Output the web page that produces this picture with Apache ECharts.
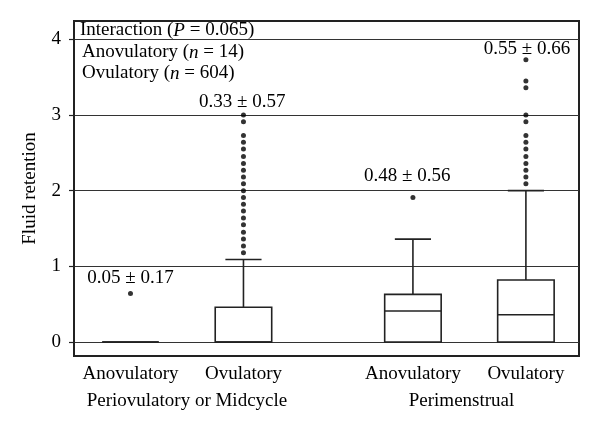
<!DOCTYPE html>
<html>
<head>
<meta charset="utf-8">
<script src="https://cdn.jsdelivr.net/npm/echarts@6/dist/echarts.min.js"></script>
<style>
html,body{margin:0;padding:0;background:#fff;}
#chart{width:600px;height:431px;}
</style>
</head>
<body>
<div id="chart"></div>
<script>
// ---- data ----
var boxPositions = [1, 2, 3.5, 4.5];
var boxLabels = ['Anovulatory', 'Ovulatory', 'Anovulatory', 'Ovulatory'];
var groupPositions = [1.5, 3.93];
var groupLabels = ['Periovulatory or Midcycle', 'Perimenstrual'];
// [min, Q1, median, Q3, max]
var statsPeriAnov = [0, 0, 0, 0, 0];
var statsPeriOv = [0, 0, 0, 0.46, 1.09];
var statsMenAnov = [0, 0, 0.41, 0.63, 1.36];
var statsMenOv = [0, 0, 0.36, 0.82, 2.0];
var outliersPeriAnov = [0.64];
var outliersPeriOv = [3.00, 2.91, 2.73, 2.64, 2.55, 2.45, 2.36, 2.27, 2.18, 2.09, 2.00, 1.91, 1.82, 1.73, 1.64, 1.55, 1.45, 1.36, 1.27, 1.18];
var outliersMenAnov = [1.91];
var outliersMenOv = [3.73, 3.45, 3.36, 3.00, 2.91, 2.73, 2.64, 2.55, 2.45, 2.36, 2.27, 2.18, 2.09];
var meanTexts = ['0.05 \u00b1 0.17', '0.33 \u00b1 0.57', '0.48 \u00b1 0.56', '0.55 \u00b1 0.66'];
var meanTextX = [1.0, 1.99, 3.45, 4.51];
var meanTextY = [0.84, 3.17, 2.2, 3.87];
var yTicks = [0, 1, 2, 3, 4];

// ---- build ----
var allStats = [statsPeriAnov, statsPeriOv, statsMenAnov, statsMenOv];
var allOutliers = [outliersPeriAnov, outliersPeriOv, outliersMenAnov, outliersMenOv];
var boxData = allStats.map(function (s, i) { return [boxPositions[i]].concat(s); });
var outlierData = [];
allOutliers.forEach(function (arr, i) {
  arr.forEach(function (v) { outlierData.push([boxPositions[i], v]); });
});
var textData = meanTexts.map(function (t, i) { return [meanTextX[i], meanTextY[i], t]; });

var FONT = 'Liberation Serif';
var FS = 19;
var INK = '#000';
var LINE = '#222';
var BOX_W = 0.5, CAP_W = 0.32;

function titleStyle() {
  return {fontFamily: FONT, fontSize: FS, fontWeight: 'normal', color: INK,
    rich: {i: {fontFamily: FONT, fontSize: FS, fontStyle: 'italic', color: INK}}};
}

var chart = echarts.init(document.getElementById('chart'), null, {renderer: 'canvas'});
chart.setOption({
  animation: false,
  backgroundColor: '#fff',
  textStyle: {fontFamily: FONT, color: INK},
  title: [
    {text: 'Interaction ({i|P} = 0.065)', left: 80, top: 21, padding: 0, textStyle: titleStyle()},
    {text: 'Anovulatory ({i|n} = 14)', left: 82, top: 43, padding: 0, textStyle: titleStyle()},
    {text: 'Ovulatory ({i|n} = 604)', left: 82, top: 64, padding: 0, textStyle: titleStyle()}
  ],
  grid: {left: 74, right: 21, top: 21, bottom: 75, show: true, borderColor: LINE, borderWidth: 2, backgroundColor: 'transparent'},
  xAxis: [
    {type: 'value', min: 0.5, max: 4.97, position: 'bottom',
     axisLine: {show: false}, axisTick: {show: false}, splitLine: {show: false},
     axisLabel: {customValues: boxPositions, margin: 9, fontFamily: FONT, fontSize: FS, color: INK,
       formatter: function (v) { var i = boxPositions.indexOf(v); return i >= 0 ? boxLabels[i] : ''; }}},
    {type: 'value', min: 0.5, max: 4.97, position: 'bottom', offset: 27,
     axisLine: {show: false}, axisTick: {show: false}, splitLine: {show: false},
     axisLabel: {customValues: groupPositions, margin: 9, fontFamily: FONT, fontSize: FS, color: INK,
       formatter: function (v) { var i = groupPositions.indexOf(v); return i >= 0 ? groupLabels[i] : ''; }}}
  ],
  yAxis: {type: 'value', min: -0.185, max: 4.242,
    name: 'Fluid retention', nameLocation: 'middle', nameGap: 34,
    nameTextStyle: {fontFamily: FONT, fontSize: FS, color: INK},
    axisLine: {show: true, lineStyle: {color: LINE, width: 1.5}},
    axisTick: {show: true, inside: false, length: 5, customValues: yTicks, lineStyle: {color: LINE, width: 1.2}},
    axisLabel: {customValues: yTicks, margin: 13, fontFamily: FONT, fontSize: FS, color: INK},
    splitLine: {show: true, lineStyle: {color: '#333', width: 1}}
  },
  series: [
    {type: 'custom', xAxisIndex: 0, data: boxData, z: 3,
     renderItem: function (params, api) {
       var x = api.value(0);
       var lo = api.value(1), q1 = api.value(2), med = api.value(3), q3 = api.value(4), hi = api.value(5);
       var half = api.size([BOX_W, 0])[0] / 2;
       var capHalf = api.size([CAP_W, 0])[0] / 2;
       var pLo = api.coord([x, lo]), pQ1 = api.coord([x, q1]), pMed = api.coord([x, med]);
       var pQ3 = api.coord([x, q3]), pHi = api.coord([x, hi]);
       var st = {stroke: LINE, lineWidth: 1.6, fill: null};
       var children = [];
       if (hi > q3) {
         children.push({type: 'line', shape: {x1: pQ3[0], y1: pQ3[1], x2: pHi[0], y2: pHi[1]}, style: st});
         children.push({type: 'line', shape: {x1: pHi[0] - capHalf, y1: pHi[1], x2: pHi[0] + capHalf, y2: pHi[1]}, style: st});
       }
       if (lo < q1) {
         children.push({type: 'line', shape: {x1: pQ1[0], y1: pQ1[1], x2: pLo[0], y2: pLo[1]}, style: st});
         children.push({type: 'line', shape: {x1: pLo[0] - capHalf, y1: pLo[1], x2: pLo[0] + capHalf, y2: pLo[1]}, style: st});
       }
       children.push({type: 'rect', shape: {x: pQ1[0] - half, y: pQ3[1], width: 2 * half, height: pQ1[1] - pQ3[1]},
         style: {stroke: LINE, lineWidth: 1.6, fill: '#fff'}});
       children.push({type: 'line', shape: {x1: pMed[0] - half, y1: pMed[1], x2: pMed[0] + half, y2: pMed[1]}, style: st});
       return {type: 'group', children: children};
     }},
    {type: 'scatter', xAxisIndex: 0, data: outlierData, symbol: 'circle', symbolSize: 5,
     itemStyle: {color: '#000'}, z: 4},
    {type: 'scatter', xAxisIndex: 0, data: textData, symbolSize: 1, z: 5,
     itemStyle: {color: 'rgba(0,0,0,0)'},
     label: {show: true, position: 'inside', fontFamily: FONT, fontSize: FS, color: INK,
       textBorderWidth: 0, textBorderColor: 'transparent', opacity: 1,
       formatter: function (p) { return p.value[2]; }}}
  ]
});
</script>
</body>
</html>
